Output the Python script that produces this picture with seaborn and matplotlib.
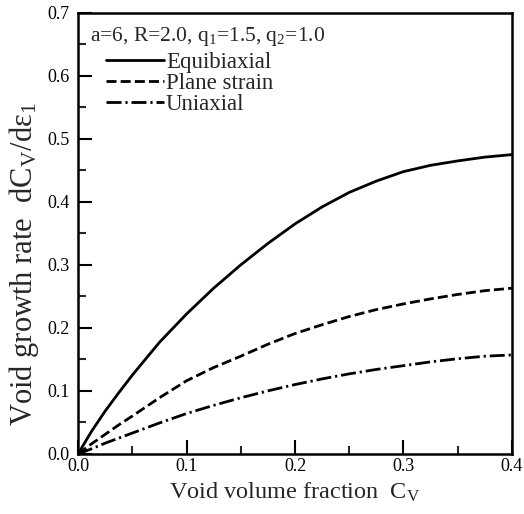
import numpy as np
import pandas as pd
import matplotlib
matplotlib.use("Agg")
import matplotlib.pyplot as plt
import seaborn as sns

cv = [0.0, 0.0125, 0.025, 0.0375, 0.05, 0.075, 0.1, 0.125, 0.15, 0.175, 0.2,
      0.225, 0.25, 0.275, 0.3, 0.325, 0.35, 0.375, 0.4]
equibiaxial = [0.0, 0.036, 0.068, 0.097, 0.125, 0.177, 0.222, 0.263, 0.300, 0.334, 0.365,
               0.392, 0.415, 0.433, 0.448, 0.458, 0.465, 0.471, 0.475]
plane_strain = [0.0, 0.016, 0.031, 0.046, 0.060, 0.089, 0.116, 0.137, 0.155, 0.174, 0.191,
                0.205, 0.218, 0.229, 0.238, 0.246, 0.253, 0.259, 0.263]
uniaxial = [0.0, 0.008, 0.017, 0.025, 0.033, 0.049, 0.064, 0.077, 0.089, 0.100, 0.110,
            0.119, 0.127, 0.134, 0.140, 0.146, 0.151, 0.155, 0.157]
series_names = ["Equibiaxial", "Plane strain", "Uniaxial"]
x_ticks = [0.0, 0.1, 0.2, 0.3, 0.4]
y_ticks = [0.0, 0.1, 0.2, 0.3, 0.4, 0.5, 0.6, 0.7]

sns.set_style("ticks")
plt.rcParams["font.family"] = ["Liberation Serif", "DejaVu Serif"]
plt.rcParams["mathtext.fontset"] = "custom"
plt.rcParams["mathtext.rm"] = "Liberation Serif"
plt.rcParams["mathtext.it"] = "Liberation Serif:italic"

fig = plt.figure(figsize=(5.24, 5.14), dpi=100)
ax = fig.add_axes([0.149, 0.117, 0.828, 0.858])

styles = ["-", (0, (3.6, 1.5)), (0, (5.4, 1.4, 0.8, 1.4))]
for name, vals, ls in zip(series_names, [equibiaxial, plane_strain, uniaxial], styles):
    df = pd.DataFrame({"x": cv, "y": vals})
    sns.lineplot(data=df, x="x", y="y", ax=ax, color="black", linewidth=2.0,
                 linestyle=ls, label=name)

ax.set_xlim(0, 0.4)
ax.set_ylim(0, 0.7)
ax.set_xticks(x_ticks)
ax.set_yticks(y_ticks)
ax.set_xticklabels([f"{v:.1f}" for v in x_ticks], fontsize=13)
ax.set_yticklabels([f"{v:.1f}" for v in y_ticks], fontsize=13)
ax.set_xticks(np.arange(0.05, 0.4, 0.1), minor=True)
ax.set_yticks(np.arange(0.05, 0.7, 0.1), minor=True)
ax.tick_params(which="major", direction="in", length=10, width=1.5, colors="black")
ax.tick_params(which="minor", direction="in", length=6, width=1.5)
ax.tick_params(axis="x", which="major", pad=3)
ax.tick_params(axis="y", which="major", pad=6)
for s in ax.spines.values():
    s.set_linewidth(1.8)
    s.set_color("black")

ax.set_xlabel(r"Void volume fraction  C$_\mathrm{V}$", fontsize=17.5, labelpad=4)
ax.set_ylabel(r"Void growth rate  dC$_\mathrm{V}$/d$\mathrm{\varepsilon}_1$", fontsize=22)
ax.yaxis.set_label_coords(-0.085, 0.43)

ax.text(0.028, 0.972, r"a=6, R=2.0, q$_1$=1.5, q$_2$=1.0", transform=ax.transAxes,
        fontsize=15.5, va="top", ha="left")
leg = ax.legend(loc="upper left", bbox_to_anchor=(0.065, 0.911), frameon=False,
                fontsize=16.5, handlelength=2.5, handletextpad=0.1, labelspacing=0.0,
                borderpad=0.0, borderaxespad=0.0)

fig.savefig("out.png", dpi=100)
